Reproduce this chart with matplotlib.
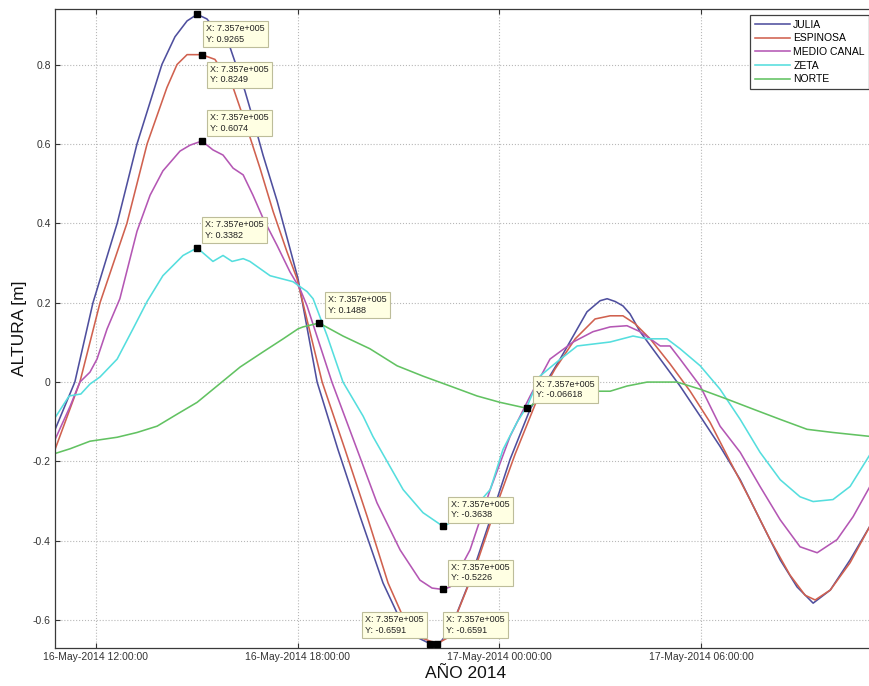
import matplotlib
matplotlib.use('Agg')
import matplotlib.pyplot as plt
import matplotlib.dates as mdates
import numpy as np
import pandas as pd

plt.rcParams['font.family'] = ['Liberation Sans', 'DejaVu Sans']
plt.rcParams['axes.unicode_minus'] = False

# hours counted from 16-May-2014 12:00:00
base = pd.Timestamp('2014-05-16 12:00:00')

julia_h = [-1.22, -0.63, -0.09, 0.63, 1.22, 1.96, 2.35, 2.71, 3.01, 3.3, 3.99, 4.43, 4.64, 4.97,
           5.39, 5.77, 6.01, 6.58, 7.20, 7.86, 8.54, 8.96, 9.55, 9.94, 10.2, 10.54, 11.13, 11.73,
           12.32, 12.92, 13.36, 13.81, 14.20, 14.61, 15.0, 15.21, 15.45, 15.68, 15.89, 16.19,
           16.79, 17.38, 17.98, 18.57, 19.17, 19.76, 20.36, 20.86, 21.34, 21.85, 22.44, 23.05]
julia_y = [-0.12, 0.0, 0.20, 0.40, 0.60, 0.80, 0.87, 0.91, 0.9265, 0.915, 0.843, 0.734, 0.673, 0.572,
           0.456, 0.337, 0.261, 0.0, -0.170, -0.339, -0.506, -0.582, -0.643, -0.6591, -0.66, -0.625,
           -0.499, -0.347, -0.195, -0.068, -0.005, 0.058, 0.116, 0.177, 0.205, 0.21, 0.203, 0.192,
           0.172, 0.127, 0.058, -0.010, -0.086, -0.162, -0.246, -0.347, -0.448, -0.516, -0.557,
           -0.524, -0.448, -0.36]

espinosa_h = [-1.22, -0.48, 0.12, 0.92, 1.52, 2.11, 2.41, 2.71, 3.15, 3.54, 4.08, 4.49, 4.88, 5.27,
              5.68, 5.98, 6.73, 7.41, 8.07, 8.69, 9.14, 9.73, 10.15, 10.45, 11.28, 11.88, 12.47,
              13.07, 13.66, 14.26, 14.85, 15.3, 15.68, 16.04, 16.49, 17.08, 17.68, 18.27, 18.87,
              19.46, 20.06, 20.65, 21.10, 21.40, 21.85, 22.44, 23.05]
espinosa_y = [-0.17, 0.0, 0.20, 0.40, 0.60, 0.742, 0.80, 0.825, 0.8249, 0.813, 0.742, 0.641, 0.539,
              0.430, 0.329, 0.261, 0.0, -0.170, -0.339, -0.506, -0.592, -0.646, -0.6591, -0.645,
              -0.47, -0.32, -0.182, -0.056, 0.033, 0.109, 0.159, 0.167, 0.167, 0.147, 0.109, 0.046,
              -0.023, -0.101, -0.2, -0.296, -0.397, -0.486, -0.537, -0.549, -0.524, -0.455, -0.36]

medio_h = [-1.22, -0.77, -0.48, -0.18, 0.03, 0.33, 0.71, 1.22, 1.61, 1.99, 2.5, 2.8, 3.15, 3.48,
           3.78, 4.08, 4.38, 4.67, 4.97, 5.39, 5.77, 6.07, 6.28, 7.02, 7.77, 8.36, 9.05, 9.64, 10.0,
           10.33, 10.54, 11.13, 11.73, 12.32, 12.92, 13.51, 14.2, 14.79, 15.30, 15.80, 16.19, 16.79,
           17.08, 17.38, 17.98, 18.57, 19.17, 19.76, 20.36, 20.95, 21.46, 22.05, 22.53, 23.05]
medio_y = [-0.145, -0.061, 0.0, 0.025, 0.058, 0.134, 0.21, 0.38, 0.471, 0.532, 0.582, 0.597, 0.6074,
           0.585, 0.572, 0.539, 0.522, 0.471, 0.413, 0.344, 0.278, 0.235, 0.192, 0.0, -0.17, -0.304,
           -0.423, -0.499, -0.519, -0.5226, -0.516, -0.423, -0.271, -0.137, -0.035, 0.058, 0.101,
           0.127, 0.139, 0.142, 0.127, 0.091, 0.091, 0.058, -0.010, -0.111, -0.177, -0.263, -0.347,
           -0.415, -0.430, -0.397, -0.339, -0.26]

zeta_h = [-1.22, -0.8, -0.45, -0.18, 0.12, 0.63, 1.10, 1.52, 1.99, 2.59, 3.01, 3.48, 3.78, 4.05, 4.38,
          4.58, 5.18, 5.86, 6.28, 6.46, 6.88, 7.35, 7.95, 8.24, 8.75, 9.14, 9.73, 10.33, 11.13, 11.73,
          12.11, 12.53, 12.83, 13.21, 13.72, 14.32, 15.30, 15.98, 16.40, 16.99, 17.38, 17.98, 18.57,
          19.17, 19.76, 20.36, 20.95, 21.34, 21.93, 22.44, 23.05]
zeta_y = [-0.09, -0.035, -0.03, -0.005, 0.013, 0.058, 0.134, 0.203, 0.268, 0.319, 0.3382, 0.304, 0.319,
          0.304, 0.311, 0.304, 0.268, 0.253, 0.228, 0.21, 0.116, 0.0, -0.086, -0.137, -0.213, -0.271,
          -0.329, -0.3638, -0.329, -0.271, -0.170, -0.101, -0.061, 0.015, 0.051, 0.091, 0.101, 0.116,
          0.109, 0.109, 0.084, 0.041, -0.018, -0.094, -0.177, -0.246, -0.289, -0.301, -0.296, -0.263,
          -0.18]

norte_h = [-1.22, -0.77, -0.18, 0.63, 1.22, 1.82, 2.41, 3.01, 3.60, 4.29, 4.97, 5.57, 6.01, 6.16, 6.64,
           7.35, 8.15, 8.96, 9.73, 10.54, 11.34, 12.02, 12.83, 13.36, 14.40, 15.30, 15.80, 16.40,
           17.29, 17.98, 18.78, 19.55, 20.36, 21.16, 21.93, 23.05]
norte_y = [-0.18, -0.168, -0.149, -0.139, -0.127, -0.111, -0.081, -0.051, -0.010, 0.038, 0.076, 0.109,
           0.134, 0.139, 0.1488, 0.116, 0.084, 0.041, 0.015, -0.010, -0.035, -0.051, -0.06618, -0.035,
           -0.023, -0.023, -0.010, 0.0, 0.0, -0.018, -0.043, -0.068, -0.094, -0.119, -0.127, -0.137]

# data tips (MATLAB datacursor)
tip_h = [3.01, 3.15, 3.15, 3.01, 6.64, 12.83, 10.33, 10.33, 9.94, 10.15]
tip_y = [0.9265, 0.8249, 0.6074, 0.3382, 0.1488, -0.06618, -0.3638, -0.5226, -0.6591, -0.6591]
tip_x_txt = '7.357e+005'
tip_y_txt = ['0.9265', '0.8249', '0.6074', '0.3382', '0.1488', '-0.06618', '-0.3638', '-0.5226',
             '-0.6591', '-0.6591']
# offsets in pixels, alignment
tip_off = [(9, -10, 'left', 'top'), (8, -10, 'left', 'top'), (8, 8, 'left', 'bottom'),
           (8, 8, 'left', 'bottom'), (9, 8, 'left', 'bottom'), (9, 9, 'left', 'bottom'),
           (8, 7, 'left', 'bottom'), (8, 7, 'left', 'bottom'), (-6, 9, 'right', 'bottom'),
           (9, 9, 'left', 'bottom')]

names = ['JULIA', 'ESPINOSA', 'MEDIO CANAL', 'ZETA', 'NORTE']
colors = ['#4f4f9e', '#d0614f', '#b457b4', '#55dede', '#62c262']


def t(h):
    return base + pd.to_timedelta(np.array(h), unit='h')


fig = plt.figure(figsize=(8.69, 6.86), dpi=100)
ax = fig.add_axes([55 / 869, 1 - 648 / 686, (878 - 55) / 869, (648 - 9) / 686])

series = [(julia_h, julia_y), (espinosa_h, espinosa_y), (medio_h, medio_y), (zeta_h, zeta_y),
          (norte_h, norte_y)]
for (h, y), n, c in zip(series, names, colors):
    ax.plot(t(h), y, color=c, lw=1.15, label=n)

ax.plot(t(tip_h), tip_y, 's', color='black', ms=4.5, zorder=6)
for i in range(len(tip_h)):
    dx, dy, ha, va = tip_off[i]
    ax.annotate('X: ' + tip_x_txt + '\nY: ' + tip_y_txt[i], xy=(t([tip_h[i]])[0], tip_y[i]),
                xytext=(dx, dy), textcoords='offset pixels', ha=ha, va=va, fontsize=6.5,
                multialignment='left', color='#222222', linespacing=1.25, zorder=7,
                bbox=dict(boxstyle='square,pad=0.35', fc='#ffffe3', ec='#bdbd9a', lw=0.8))

ax.set_xlim(t([-1.22])[0], t([23.27])[0])
ax.set_ylim(-0.67, 0.94)
ax.set_yticks(np.arange(-0.6, 0.81, 0.2))
ax.yaxis.set_major_formatter(plt.FuncFormatter(lambda v, p: '%g' % round(v, 2)))
ax.xaxis.set_major_locator(mdates.HourLocator(byhour=[0, 6, 12, 18]))
ax.xaxis.set_major_formatter(mdates.DateFormatter('%d-%b-%Y %H:%M:%S'))

ax.grid(True, ls=':', color='#b8b8b8', lw=0.8)
ax.tick_params(direction='in', length=3.5, width=0.8, top=True, right=True, labelsize=7.5,
               labelcolor='#333333', color='#333333')
ax.tick_params(axis='x', pad=3)
ax.tick_params(axis='y', pad=3)
for s in ax.spines.values():
    s.set_color('#3a3a3a')
    s.set_linewidth(0.9)

fig.text(20 / 869, 1 - 328 / 686, 'ALTURA [m]', rotation=90, ha='center', va='center',
         fontsize=12.5, color='#111111')
fig.text(466 / 869, 1 - 678 / 686, 'AÑO 2014', ha='center', va='baseline', fontsize=12.5,
         color='#111111')

leg = ax.legend(loc='upper left', bbox_to_anchor=(750 / 869, 1 - 15 / 686),
                bbox_transform=fig.transFigure, fontsize=7.5, handlelength=3.4, handletextpad=0.3,
                labelspacing=0.35, borderpad=0.45, borderaxespad=0, fancybox=False, framealpha=1)
leg.get_frame().set_edgecolor('#404040')
leg.get_frame().set_linewidth(0.9)

fig.savefig('out.png', dpi=100)
